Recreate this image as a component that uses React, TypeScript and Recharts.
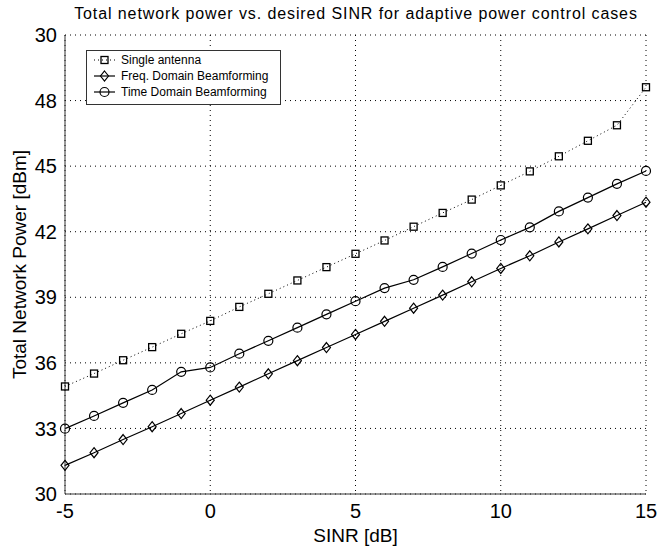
import React from 'react';
import { LineChart, Line, XAxis, YAxis, CartesianGrid, Legend, Label } from 'recharts';

const sinr = [-5, -4, -3, -2, -1, 0, 1, 2, 3, 4, 5, 6, 7, 8, 9, 10, 11, 12, 13, 14, 15];
const singleAntenna = [34.92, 35.51, 36.12, 36.72, 37.33, 37.92, 38.56, 39.16, 39.77, 40.38, 40.99, 41.6, 42.23, 42.86, 43.47, 44.12, 44.76, 45.45, 46.16, 46.87, 48.61];
const freqDomain = [31.31, 31.89, 32.49, 33.08, 33.68, 34.29, 34.89, 35.5, 36.1, 36.7, 37.3, 37.9, 38.5, 39.1, 39.71, 40.32, 40.9, 41.53, 42.13, 42.74, 43.35];
const timeDomain = [32.99, 33.57, 34.17, 34.76, 35.59, 35.79, 36.42, 37.01, 37.61, 38.22, 38.82, 39.42, 39.8, 40.39, 41.0, 41.62, 42.2, 42.93, 43.56, 44.19, 44.78];

const xTicks = [-5, 0, 5, 10, 15];
const yTicks = [30, 33, 36, 39, 42, 45, 48, 51];
// the top tick of the original figure is printed as "30"
const yTickLabels = ['30', '33', '36', '39', '42', '45', '48', '30'];

const seriesNames = ['Single antenna', 'Freq. Domain Beamforming', 'Time Domain Beamforming'];

const data = sinr.map((x, i) => ({
    x,
    single: singleAntenna[i],
    freq: freqDomain[i],
    time: timeDomain[i],
}));

const FONT = '"Liberation Sans", Arial, Helvetica, sans-serif';

type Kind = 'square' | 'diamond' | 'circle';

const markerShape = (kind: Kind, cx: number, cy: number) => {
    if (kind === 'square') {
        return <rect x={cx - 3.5} y={cy - 3.5} width={7} height={7} fill="none" stroke="#000" strokeWidth={1.3} />;
    }
    if (kind === 'diamond') {
        return (
            <path
                d={`M${cx},${cy - 5} L${cx + 4},${cy} L${cx},${cy + 5} L${cx - 4},${cy} Z`}
                fill="none"
                stroke="#000"
                strokeWidth={1.2}
            />
        );
    }
    return <circle cx={cx} cy={cy} r={4.5} fill="none" stroke="#000" strokeWidth={1.2} />;
};

const makeDot = (kind: Kind) => (props: any) => {
    const { cx, cy, index } = props;
    if (cx == null || cy == null) return <g key={`${kind}-${index}`} />;
    return <g key={`${kind}-${index}`}>{markerShape(kind, cx, cy)}</g>;
};

const legendKinds: Kind[] = ['square', 'diamond', 'circle'];

const LegendBox = () => (
    <div
        style={{
            width: 195,
            height: 55,
            border: '1px solid #333',
            background: '#fff',
            fontFamily: FONT,
            fontSize: 12,
            color: '#000',
            boxSizing: 'border-box',
            paddingTop: 1,
        }}
    >
        {seriesNames.map((name, i) => (
            <div key={name} style={{ display: 'flex', alignItems: 'center', height: 16 }}>
                <svg width={34} height={16} style={{ display: 'block' }}>
                    <line
                        x1={7}
                        x2={28}
                        y1={8}
                        y2={8}
                        stroke="#000"
                        strokeWidth={i === 0 ? 1 : 1.2}
                        strokeDasharray={i === 0 ? '1 3' : undefined}
                    />
                    {markerShape(legendKinds[i], 17.5, 8)}
                </svg>
                <span>{name}</span>
            </div>
        ))}
    </div>
);

export default function App() {
    return (
        <div style={{ position: 'absolute', left: 0, top: 0, width: 660, height: 554, background: '#fff' }}>
            <div
                style={{
                    position: 'absolute',
                    left: 0,
                    width: 712,
                    top: 5,
                    textAlign: 'center',
                    fontFamily: FONT,
                    fontSize: 16,
                    letterSpacing: 0.9,
                    color: '#000',
                    whiteSpace: 'nowrap',
                }}
            >
                Total network power vs. desired SINR for adaptive power control cases
            </div>
            <LineChart width={660} height={554} data={data} margin={{ top: 35, right: 14, bottom: 0, left: 0 }}>
                <CartesianGrid stroke="#000" strokeDasharray="1 4" strokeWidth={1} />
                <XAxis
                    dataKey="x"
                    type="number"
                    domain={[-5, 15]}
                    ticks={xTicks}
                    height={60}
                    tickLine={false}
                    tickMargin={4}
                    axisLine={{ stroke: '#333' }}
                    tick={{ fontSize: 20, fill: '#000', fontFamily: FONT }}
                >
                    <Label
                        value="SINR [dB]"
                        position="insideBottom"
                        offset={12}
                        style={{ fontSize: 19, fill: '#000', fontFamily: FONT }}
                    />
                </XAxis>
                <XAxis xAxisId="top" orientation="top" type="number" domain={[-5, 15]} height={0} tick={false} tickLine={false} axisLine={{ stroke: '#333' }} />
                <YAxis
                    type="number"
                    domain={[30, 51]}
                    ticks={yTicks}
                    width={65}
                    tickLine={false}
                    interval={0}
                    axisLine={{ stroke: '#333' }}
                    tickFormatter={(v: number) => yTickLabels[yTicks.indexOf(v)] ?? String(v)}
                    tick={{ fontSize: 20, fill: '#000', fontFamily: FONT }}
                >
                    <Label
                        value="Total Network Power [dBm]"
                        angle={-90}
                        position="insideLeft"
                        offset={19}
                        style={{ fontSize: 19, fill: '#000', fontFamily: FONT, textAnchor: 'middle' }}
                    />
                </YAxis>
                <YAxis yAxisId="right" orientation="right" type="number" domain={[30, 51]} width={0} tick={false} tickLine={false} axisLine={{ stroke: '#777', strokeWidth: 1.5 }} />
                <Legend
                    layout="vertical"
                    align="center"
                    verticalAlign="middle"
                    wrapperStyle={{ left: 86, top: 50, width: 195 }}
                    content={() => <LegendBox />}
                />
                <Line
                    dataKey="single"
                    name={seriesNames[0]}
                    stroke="#000"
                    strokeWidth={1}
                    strokeDasharray="1 3"
                    dot={makeDot('square')}
                    isAnimationActive={false}
                />
                <Line
                    dataKey="freq"
                    name={seriesNames[1]}
                    stroke="#000"
                    strokeWidth={1.2}
                    dot={makeDot('diamond')}
                    isAnimationActive={false}
                />
                <Line
                    dataKey="time"
                    name={seriesNames[2]}
                    stroke="#000"
                    strokeWidth={1.2}
                    dot={makeDot('circle')}
                    isAnimationActive={false}
                />
            </LineChart>
        </div>
    );
}
